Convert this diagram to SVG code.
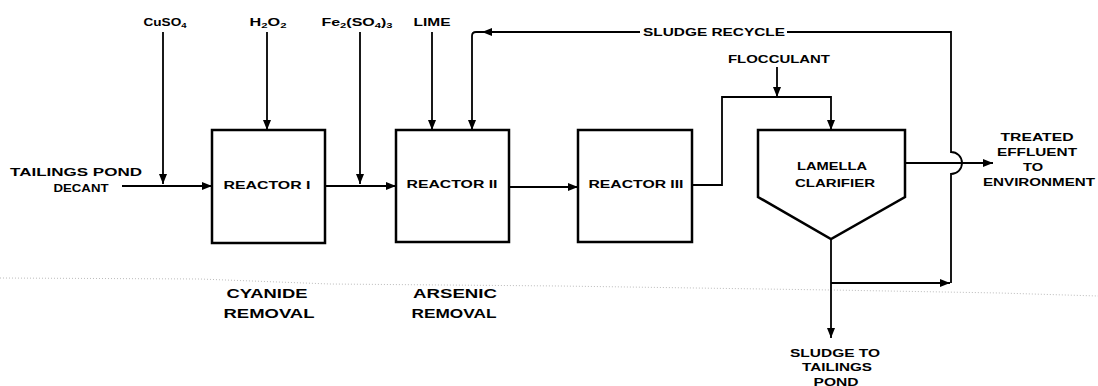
<svg xmlns="http://www.w3.org/2000/svg" width="1098" height="386" viewBox="0 0 1098 386">
<defs>
<marker id="ah" viewBox="0 0 10 8" refX="10" refY="4" markerWidth="11" markerHeight="8" markerUnits="userSpaceOnUse" orient="auto">
<path d="M0,0 L10,4 L0,8 Z" fill="#000"/>
</marker>
<style>
.box{fill:#fff;stroke:#000;stroke-width:2.5}
.ln{fill:none;stroke:#000;stroke-width:1.8}
.ar{marker-end:url(#ah)}
text{font-family:"Liberation Sans",Arial,sans-serif;font-weight:bold;fill:#000;text-anchor:middle}
.s{font-size:10px}
.m{font-size:11px}
.b{font-size:13px}
.scan{fill:none;stroke:#aaa;stroke-width:0.8;stroke-dasharray:1 2}
</style>
</defs>
<rect width="1098" height="386" fill="#fff"/>
<polyline class="scan" points="0,278 200,279 330,284 560,286 831,290 1000,293 1098,296"/>

<g id="connectors">
<path class="ln ar" d="M122,186 H212"/>
<path class="ln ar" d="M163,32 V184"/>
<path class="ln ar" d="M267,32 V130"/>
<path class="ln ar" d="M325,186 H396"/>
<path class="ln ar" d="M360,32 V184"/>
<path class="ln ar" d="M432,32 V130"/>
<path class="ln ar" d="M509,187 H578"/>
<path class="ln ar" d="M692,185 H722 V97 H831 V130"/>
<path class="ln ar" d="M777,67 V97"/>
<path class="ln ar" d="M905,163 H993"/>
<path class="ln ar" d="M831,239 V338"/>
<path class="ln ar" d="M831,283 H950"/>
<path class="ln" d="M951,283 V174 A11,11 0 0 0 951,152 V32 H787"/>
<path class="ln ar" d="M640,32 H482"/>
<path class="ln ar" d="M484,32 H476 Q472,32 472,36 V130"/>
</g>

<g id="feed-labels">
<text class="s" x="165" y="26" textLength="43" lengthAdjust="spacingAndGlyphs">CuSO<tspan font-size="7" dy="2">4</tspan></text>
<text class="s" x="268" y="26" textLength="37" lengthAdjust="spacingAndGlyphs">H<tspan font-size="7" dy="2">2</tspan><tspan dy="-2">O</tspan><tspan font-size="7" dy="2">2</tspan></text>
<text class="s" x="357" y="26" textLength="71" lengthAdjust="spacingAndGlyphs">Fe<tspan font-size="7" dy="2">2</tspan><tspan dy="-2">(SO</tspan><tspan font-size="7" dy="2">4</tspan><tspan dy="-2">)</tspan><tspan font-size="7" dy="2">3</tspan></text>
<text class="s" x="432" y="26" textLength="37" lengthAdjust="spacingAndGlyphs">LIME</text>
<text class="s" x="714" y="36" textLength="142" lengthAdjust="spacingAndGlyphs">SLUDGE RECYCLE</text>
<text class="s" x="779" y="63" textLength="102" lengthAdjust="spacingAndGlyphs">FLOCCULANT</text>
</g>

<g id="inlet">
<text class="s" x="76" y="176" textLength="132" lengthAdjust="spacingAndGlyphs">TAILINGS POND</text>
<text class="s" x="81" y="192" textLength="55" lengthAdjust="spacingAndGlyphs">DECANT</text>
</g>

<g id="reactor1">
<rect class="box" x="212" y="130" width="113" height="113"/>
<text class="s" x="267" y="189" textLength="87" lengthAdjust="spacingAndGlyphs">REACTOR I</text>
</g>
<g id="reactor2">
<rect class="box" x="396" y="130" width="113" height="112"/>
<text class="s" x="452" y="188" textLength="91" lengthAdjust="spacingAndGlyphs">REACTOR II</text>
</g>
<g id="reactor3">
<rect class="box" x="578" y="130" width="114" height="112"/>
<text class="s" x="636" y="188" textLength="95" lengthAdjust="spacingAndGlyphs">REACTOR III</text>
</g>
<g id="clarifier">
<path class="box" d="M758,130 H905 V197 L831,239 L758,197 Z"/>
<text class="s" x="832" y="170" textLength="70" lengthAdjust="spacingAndGlyphs">LAMELLA</text>
<text class="s" x="835" y="187" textLength="80" lengthAdjust="spacingAndGlyphs">CLARIFIER</text>
</g>

<g id="effluent">
<text class="s" x="1037" y="141" textLength="73" lengthAdjust="spacingAndGlyphs">TREATED</text>
<text class="s" x="1037" y="156" textLength="80" lengthAdjust="spacingAndGlyphs">EFFLUENT</text>
<text class="s" x="1033" y="171" textLength="20" lengthAdjust="spacingAndGlyphs">TO</text>
<text class="s" x="1039" y="186" textLength="112" lengthAdjust="spacingAndGlyphs">ENVIRONMENT</text>
</g>

<g id="sludge-out">
<text class="s" x="835" y="357" textLength="90" lengthAdjust="spacingAndGlyphs">SLUDGE TO</text>
<text class="s" x="837" y="371" textLength="70" lengthAdjust="spacingAndGlyphs">TAILINGS</text>
<text class="s" x="836" y="386" textLength="45" lengthAdjust="spacingAndGlyphs">POND</text>
</g>

<g id="cyanide-removal">
<text class="b" x="267" y="298" textLength="81" lengthAdjust="spacingAndGlyphs">CYANIDE</text>
<text class="b" x="269" y="318" textLength="91" lengthAdjust="spacingAndGlyphs">REMOVAL</text>
</g>
<g id="arsenic-removal">
<text class="b" x="455" y="298" textLength="84" lengthAdjust="spacingAndGlyphs">ARSENIC</text>
<text class="b" x="454" y="318" textLength="85" lengthAdjust="spacingAndGlyphs">REMOVAL</text>
</g>
</svg>
